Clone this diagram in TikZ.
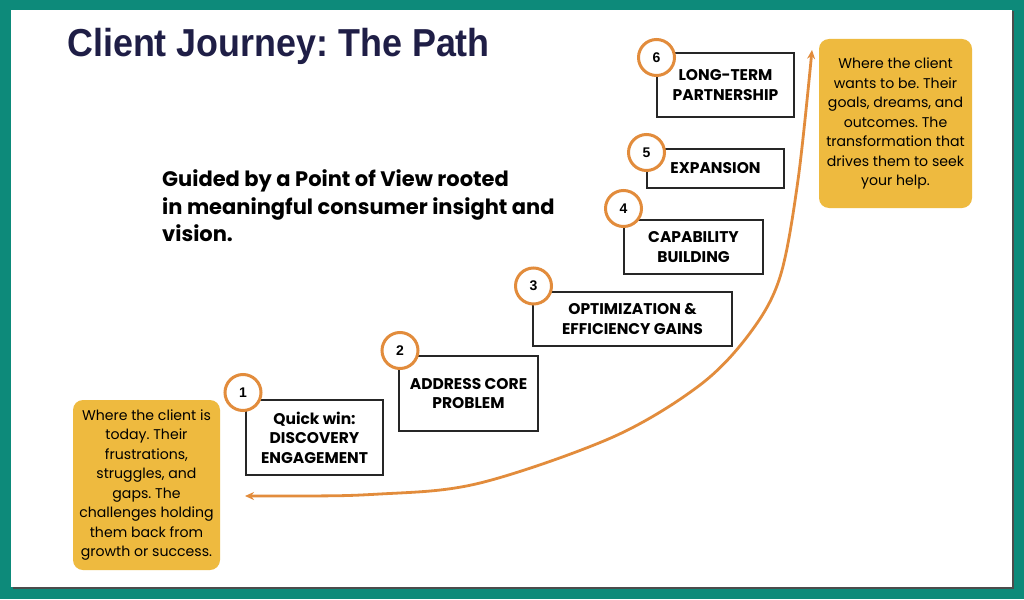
\documentclass[tikz,border=0pt]{standalone}
\usepackage{fontspec}
\usepackage{graphicx}
\usetikzlibrary{arrows.meta}
\newfontfamily\popfont{Poppins}
\newfontfamily\arsfont{Liberation Sans}
\definecolor{tealbg}{RGB}{13,138,122}
\definecolor{navy}{RGB}{31,30,70}
\definecolor{goldbox}{RGB}{238,186,63}
\definecolor{orangeline}{RGB}{226,140,60}
\frenchspacing
\tikzset{
  stepbox/.style={draw=black!85, line width=1.4pt, fill=white, inner sep=0pt, align=center,
    font=\popfont\bfseries\fontsize{15.5}{19.5}\selectfont},
  numcircle/.style={circle, draw=orangeline, line width=3pt, fill=white, minimum size=36pt, inner sep=0pt,
    font=\arsfont\bfseries\fontsize{14}{14}\selectfont},
  goldnote/.style={fill=goldbox, rounded corners=10pt, inner sep=0pt, align=center,
    font=\popfont\fontsize{14.1}{19.5}\selectfont},
  journey/.style={draw=orangeline, line width=2.8pt, {Stealth[length=9pt,width=8pt]}-{Stealth[length=9pt,width=8pt]}}
}
\begin{document}
\begin{tikzpicture}[x=1pt,y=-1pt]
% background and panel
\fill[tealbg] (0,0) rectangle (1024,599);
\fill[black!70] (12.5,11.5) rectangle (1013.5,588.5);
\fill[white] (11,10) rectangle (1012,587);
\useasboundingbox (0,0) rectangle (1024,599);

% title
\node[anchor=base west, inner sep=0pt, text=navy, font=\arsfont\bfseries\fontsize{39}{39}\selectfont]
  (title) at (67,57) {\scalebox{0.92}[1]{Client Journey: The Path}};

% subtitle
\node[anchor=north west, inner sep=0pt, align=left, font=\popfont\bfseries\fontsize{21}{27.5}\selectfont]
  (pov) at (162,169.5) {Guided by a Point of View rooted\\in meaningful consumer insight and\\vision.};

% journey curve
\coordinate (curveStart) at (245,496);
\coordinate (curveEnd) at (812,50);
\draw[journey] plot[smooth, tension=0.55] coordinates {(curveStart) (380,494) (480,483) (613,437) (700,385) (750,333) (780,277) (798,180) (curveEnd)};

% step boxes
\node[stepbox, minimum width=137pt, minimum height=75pt] (s1) at (314.5,437.5) {Quick win:\\DISCOVERY\\ENGAGEMENT};
\node[stepbox, minimum width=139pt, minimum height=75pt] (s2) at (468.5,393.5) {ADDRESS CORE\\PROBLEM};
\node[stepbox, minimum width=199pt, minimum height=54pt] (s3) at (632.5,319) {OPTIMIZATION \&\\EFFICIENCY GAINS};
\node[stepbox, minimum width=139pt, minimum height=54pt] (s4) at (693.5,247) {CAPABILITY\\BUILDING};
\node[stepbox, minimum width=137pt, minimum height=39pt] (s5) at (715.5,168.5) {EXPANSION};
\node[stepbox, minimum width=137pt, minimum height=64pt] (s6) at (725.5,85) {LONG-TERM\\PARTNERSHIP};

% number circles
\node[numcircle] (n1) at (243,392.5) {1};
\node[numcircle] (n2) at (400,350.5) {2};
\node[numcircle] (n3) at (533.5,286) {3};
\node[numcircle] (n4) at (623.5,208.5) {4};
\node[numcircle] (n5) at (646.5,152.5) {5};
\node[numcircle] (n6) at (656.5,57.5) {6};

% gold notes
\node[goldnote, minimum width=147pt, minimum height=170pt] (today) at (146.5,485)
  {Where the client is\\today. Their\\frustrations,\\struggles, and\\gaps. The\\challenges holding\\them back from\\growth or success.};
\node[goldnote, minimum width=153pt, minimum height=169pt] (future) at (895.5,123.5)
  {Where the client\\wants to be. Their\\goals, dreams, and\\outcomes. The\\transformation that\\drives them to seek\\your help.};
\end{tikzpicture}
\end{document}
